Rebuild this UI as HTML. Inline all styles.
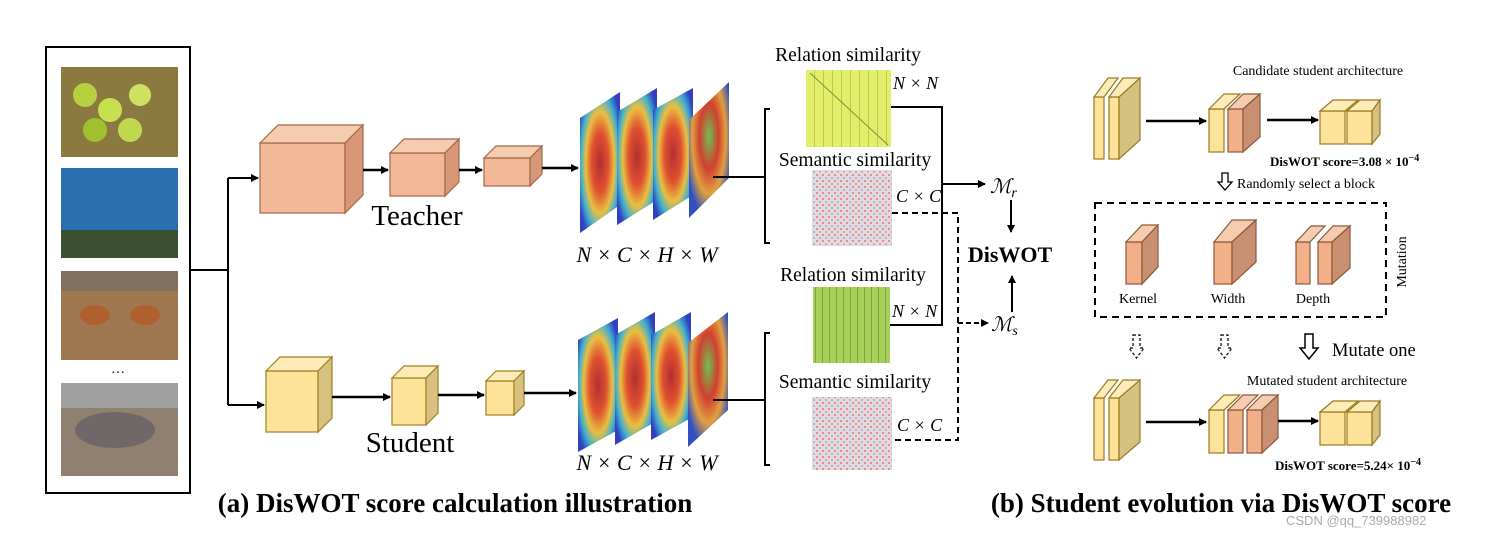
<!DOCTYPE html>
<html><head><meta charset="utf-8"><style>
html,body{margin:0;padding:0;background:#fff;}
svg{display:block;font-family:"Liberation Serif",serif;}
</style></head><body>
<svg width="1492" height="537" viewBox="0 0 1492 537" xmlns="http://www.w3.org/2000/svg">
<defs>
<marker id="ar" markerWidth="8" markerHeight="8" refX="7" refY="4" orient="auto" markerUnits="userSpaceOnUse"><path d="M0,0 L8,4 L0,8 z" fill="#000"/></marker>
<radialGradient id="hm" cx="0.5" cy="0.5" r="0.6"><stop offset="0" stop-color="#b03030"/><stop offset="0.35" stop-color="#e05030"/><stop offset="0.6" stop-color="#e8c040"/><stop offset="0.8" stop-color="#40b0d0"/><stop offset="1" stop-color="#3040c0"/></radialGradient>
<radialGradient id="hm2" cx="0.5" cy="0.4" r="0.6"><stop offset="0" stop-color="#70c050"/><stop offset="0.4" stop-color="#d04030"/><stop offset="0.7" stop-color="#e0a040"/><stop offset="1" stop-color="#3050c0"/></radialGradient>
<pattern id="sem" width="6" height="6" patternUnits="userSpaceOnUse"><rect width="6" height="6" fill="#e4d8dc"/><rect x="0" y="0" width="2" height="2" fill="#e89080"/><rect x="3" y="3" width="2" height="2" fill="#a8b8e0"/></pattern>
<pattern id="rel1" width="9" height="9" patternUnits="userSpaceOnUse"><rect width="9" height="9" fill="#e2ee6a"/><rect x="4" width="1" height="9" fill="#b8cc50"/></pattern>
<pattern id="rel2" width="7" height="7" patternUnits="userSpaceOnUse"><rect width="7" height="7" fill="#a8d058"/><rect x="3" width="1" height="7" fill="#78a840"/></pattern>
</defs>

<rect x="46" y="47" width="144" height="446" fill="#fff" stroke="#000" stroke-width="2"/>
<rect x="61" y="67" width="117" height="90" fill="#8a7a40"/>
<circle cx="85" cy="95" r="12" fill="#b8d040"/><circle cx="110" cy="110" r="12" fill="#c8e050"/><circle cx="140" cy="95" r="11" fill="#d0e060"/><circle cx="95" cy="130" r="12" fill="#a0c030"/><circle cx="130" cy="130" r="12" fill="#c0d850"/>
<rect x="61" y="168" width="117" height="90" fill="#2a70b0"/><rect x="61" y="230" width="117" height="28" fill="#3a5030"/>
<rect x="61" y="271" width="117" height="89" fill="#a07850"/><rect x="61" y="271" width="117" height="20" fill="#807060"/>
<ellipse cx="95" cy="315" rx="15" ry="10" fill="#b06030"/><ellipse cx="145" cy="315" rx="15" ry="10" fill="#b06030"/>
<text x="118" y="373" font-size="14" text-anchor="middle">…</text>
<rect x="61" y="383" width="117" height="93" fill="#908070"/><rect x="61" y="383" width="117" height="25" fill="#a0a0a0"/>
<ellipse cx="115" cy="430" rx="40" ry="18" fill="#706868"/>

<path d="M190,270 H228 V178 M228,270 V405" stroke="#000" stroke-width="2" fill="none"/>
<line x1="228" y1="178" x2="258" y2="178" stroke="#000" stroke-width="2" marker-end="url(#ar)"/>
<line x1="228" y1="405" x2="264" y2="405" stroke="#000" stroke-width="2" marker-end="url(#ar)"/>

<g stroke="#a06848" stroke-width="1.2">
<rect x="260" y="143" width="85" height="70" fill="#f2b898"/>
<polygon points="260,143 278,125 363,125 345,143" fill="#f6ccb0"/>
<polygon points="345,143 363,125 363,195 345,213" fill="#d89878"/>
<rect x="390" y="153" width="55" height="43" fill="#f2b898"/>
<polygon points="390,153 404,139 459,139 445,153" fill="#f6ccb0"/>
<polygon points="445,153 459,139 459,182 445,196" fill="#d89878"/>
<rect x="484" y="158" width="46" height="28" fill="#f2b898"/>
<polygon points="484,158 496,146 542,146 530,158" fill="#f6ccb0"/>
<polygon points="530,158 542,146 542,174 530,186" fill="#d89878"/>
</g>
<g stroke="#000" stroke-width="2.5">
<line x1="363" y1="170" x2="388" y2="170" marker-end="url(#ar)"/>
<line x1="459" y1="170" x2="482" y2="170" marker-end="url(#ar)"/>
<line x1="542" y1="168" x2="578" y2="168" marker-end="url(#ar)"/>
</g>
<text x="417" y="225" font-size="29" text-anchor="middle">Teacher</text>

<g stroke="#a08020" stroke-width="1.2">
<rect x="266" y="371" width="52" height="61" fill="#fde39a"/>
<polygon points="266,371 280,357 332,357 318,371" fill="#feecb8"/>
<polygon points="318,371 332,357 332,418 318,432" fill="#d8c080"/>
<rect x="392" y="378" width="34" height="47" fill="#fde39a"/>
<polygon points="392,378 404,366 438,366 426,378" fill="#feecb8"/>
<polygon points="426,378 438,366 438,413 426,425" fill="#d8c080"/>
<rect x="486" y="381" width="28" height="34" fill="#fde39a"/>
<polygon points="486,381 496,371 524,371 514,381" fill="#feecb8"/>
<polygon points="514,381 524,371 524,405 514,415" fill="#d8c080"/>
</g>
<g stroke="#000" stroke-width="2.5">
<line x1="332" y1="397" x2="390" y2="397" marker-end="url(#ar)"/>
<line x1="438" y1="395" x2="484" y2="395" marker-end="url(#ar)"/>
<line x1="524" y1="393" x2="576" y2="393" marker-end="url(#ar)"/>
</g>
<text x="410" y="452" font-size="29" text-anchor="middle">Student</text>

<polygon points="580,118 620,92 620,205 580,233" fill="url(#hm)"/>
<polygon points="617,112 657,88 657,200 617,225" fill="url(#hm)"/>
<polygon points="653,110 693,88 693,195 653,220" fill="url(#hm)"/>
<polygon points="689,120 729,82 729,178 689,218" fill="url(#hm2)"/>
<line x1="713" y1="177" x2="765" y2="177" stroke="#000" stroke-width="2"/>
<path d="M770,109 H765 V243 H770" stroke="#000" stroke-width="2" fill="none"/>
<text x="647" y="262" font-size="22" font-style="italic" text-anchor="middle">N × C × H × W</text>

<polygon points="578,340 618,318 618,430 578,452" fill="url(#hm)"/>
<polygon points="615,335 655,312 655,422 615,445" fill="url(#hm)"/>
<polygon points="651,335 691,312 691,418 651,440" fill="url(#hm)"/>
<polygon points="688,343 728,312 728,410 688,447" fill="url(#hm2)"/>
<line x1="713" y1="400" x2="765" y2="400" stroke="#000" stroke-width="2"/>
<path d="M770,333 H765 V465 H770" stroke="#000" stroke-width="2" fill="none"/>
<text x="647" y="470" font-size="22" font-style="italic" text-anchor="middle">N × C × H × W</text>

<rect x="806" y="70" width="85" height="77" fill="url(#rel1)"/>
<line x1="810" y1="73" x2="888" y2="145" stroke="#7a9040" stroke-width="1"/>
<rect x="812" y="170" width="80" height="76" fill="url(#sem)"/>
<rect x="813" y="287" width="77" height="76" fill="url(#rel2)"/>
<rect x="812" y="397" width="80" height="73" fill="url(#sem)"/>
<g font-size="19.5">
<text x="848" y="61" text-anchor="middle">Relation similarity</text>
<text x="855" y="166" text-anchor="middle">Semantic similarity</text>
<text x="853" y="281" text-anchor="middle">Relation similarity</text>
<text x="855" y="388" text-anchor="middle">Semantic similarity</text>
</g>
<g font-size="18" font-style="italic">
<text x="893" y="89">N × N</text>
<text x="896" y="202">C × C</text>
<text x="892" y="317">N × N</text>
<text x="897" y="431">C × C</text>
</g>
<path d="M891,107 H942 V325 H890" stroke="#000" stroke-width="2" fill="none"/>
<line x1="942" y1="184" x2="985" y2="184" stroke="#000" stroke-width="2" marker-end="url(#ar)"/>
<path d="M892,213 H958 V440 H892" stroke="#000" stroke-width="2" fill="none" stroke-dasharray="6,4"/>
<line x1="958" y1="323" x2="988" y2="323" stroke="#000" stroke-width="2" stroke-dasharray="5,3" marker-end="url(#ar)"/>
<text x="990" y="193" font-size="20" font-style="italic">ℳ<tspan font-size="14" dy="4">r</tspan></text>
<text x="991" y="331" font-size="20" font-style="italic">ℳ<tspan font-size="14" dy="4">s</tspan></text>
<line x1="1011" y1="200" x2="1011" y2="232" stroke="#000" stroke-width="2" marker-end="url(#ar)"/>
<line x1="1012" y1="312" x2="1012" y2="276" stroke="#000" stroke-width="2" marker-end="url(#ar)"/>
<text x="1010" y="262" font-size="22" font-weight="bold" text-anchor="middle">DisWOT</text>

<g stroke="#9a7a20" stroke-width="1.2">
<rect x="1094" y="97" width="10" height="62" fill="#fde39a"/><polygon points="1094,97 1108,78 1118,78 1104,97" fill="#feecb8"/>
<rect x="1109" y="97" width="10" height="62" fill="#fde39a"/><polygon points="1109,97 1123,78 1140,78 1125,97" fill="#feecb8"/><polygon points="1119,97 1140,78 1140,140 1119,159" fill="#d4c080"/>
<rect x="1209" y="109" width="15" height="43" fill="#fde39a"/><polygon points="1209,109 1224,94 1240,94 1224,109" fill="#feecb8"/>
<rect x="1228" y="109" width="15" height="43" fill="#f2b088" stroke="#8b5a3c"/><polygon points="1228,109 1243,94 1260,94 1243,109" fill="#f6ccb0" stroke="#8b5a3c"/><polygon points="1243,109 1260,94 1260,137 1243,152" fill="#c89070" stroke="#8b5a3c"/>
<rect x="1320" y="111" width="25" height="33" fill="#fde39a"/><polygon points="1320,111 1333,100 1358,100 1345,111" fill="#feecb8"/>
<rect x="1347" y="111" width="25" height="33" fill="#fde39a"/><polygon points="1347,111 1360,100 1380,100 1372,111" fill="#feecb8"/><polygon points="1372,111 1380,100 1380,134 1372,144" fill="#d4c080"/>
<rect x="1094" y="398" width="10" height="62" fill="#fde39a"/><polygon points="1094,398 1108,380 1118,380 1104,398" fill="#feecb8"/>
<rect x="1109" y="398" width="10" height="62" fill="#fde39a"/><polygon points="1109,398 1123,380 1140,380 1125,398" fill="#feecb8"/><polygon points="1119,398 1140,380 1140,442 1119,460" fill="#d4c080"/>
<rect x="1209" y="410" width="15" height="43" fill="#fde39a"/><polygon points="1209,410 1224,395 1240,395 1224,410" fill="#feecb8"/>
<rect x="1228" y="410" width="15" height="43" fill="#f2b088" stroke="#8b5a3c"/><polygon points="1228,410 1243,395 1258,395 1243,410" fill="#f6ccb0" stroke="#8b5a3c"/>
<rect x="1247" y="410" width="15" height="43" fill="#f2b088" stroke="#8b5a3c"/><polygon points="1247,410 1262,395 1278,395 1262,410" fill="#f6ccb0" stroke="#8b5a3c"/><polygon points="1262,410 1278,395 1278,438 1262,453" fill="#c89070" stroke="#8b5a3c"/>
<rect x="1320" y="412" width="25" height="33" fill="#fde39a"/><polygon points="1320,412 1333,401 1358,401 1345,412" fill="#feecb8"/>
<rect x="1347" y="412" width="25" height="33" fill="#fde39a"/><polygon points="1347,412 1360,401 1380,401 1372,412" fill="#feecb8"/><polygon points="1372,412 1380,401 1380,435 1372,445" fill="#d4c080"/>
</g>
<g stroke="#8b5a3c" stroke-width="1.2">
<rect x="1126" y="242" width="16" height="42" fill="#f2b088"/><polygon points="1126,242 1142,225 1158,225 1142,242" fill="#f6ccb0"/><polygon points="1142,242 1158,225 1158,267 1142,284" fill="#c89070"/>
<rect x="1214" y="242" width="18" height="42" fill="#f2b088"/><polygon points="1214,242 1232,220 1256,220 1232,242" fill="#f6ccb0"/><polygon points="1232,242 1256,220 1256,262 1232,284" fill="#c89070"/>
<rect x="1296" y="242" width="14" height="42" fill="#f2b088"/><polygon points="1296,242 1311,226 1325,226 1310,242" fill="#f6ccb0"/>
<rect x="1318" y="242" width="14" height="42" fill="#f2b088"/><polygon points="1318,242 1333,226 1350,226 1332,242" fill="#f6ccb0"/><polygon points="1332,242 1350,226 1350,268 1332,284" fill="#c89070"/>
</g>
<g stroke="#000" stroke-width="2.5">
<line x1="1146" y1="121" x2="1206" y2="121" marker-end="url(#ar)"/>
<line x1="1267" y1="120" x2="1318" y2="120" marker-end="url(#ar)"/>
<line x1="1146" y1="422" x2="1206" y2="422" marker-end="url(#ar)"/>
<line x1="1278" y1="421" x2="1318" y2="421" marker-end="url(#ar)"/>
</g>
<rect x="1095" y="203" width="291" height="114" fill="none" stroke="#000" stroke-width="2" stroke-dasharray="7,5"/>
<g font-size="14">
<text x="1318" y="75" text-anchor="middle">Candidate student architecture</text>
<text x="1237" y="188">Randomly select a block</text>
<text x="1138" y="303" text-anchor="middle">Kernel</text>
<text x="1228" y="303" text-anchor="middle">Width</text>
<text x="1313" y="303" text-anchor="middle">Depth</text>
<text x="1327" y="385" text-anchor="middle">Mutated student architecture</text>
<text transform="translate(1406,262) rotate(-90)" text-anchor="middle">Mutation</text>
</g>
<text x="1332" y="356" font-size="18.5">Mutate one</text>
<text x="1270" y="166" font-size="13" font-weight="bold">DisWOT score=3.08 × 10<tspan dy="-5" font-size="10">−4</tspan></text>
<text x="1275" y="470" font-size="13" font-weight="bold">DisWOT score=5.24× 10<tspan dy="-5" font-size="10">−4</tspan></text>
<path d="M1222,173 h6 v9 h4 l-7,8 l-7,-8 h4 z" fill="#fff" stroke="#000" stroke-width="1.3"/>
<path d="M1305,334 h8 v14 h5 l-9,11 l-9,-11 h5 z" fill="#fff" stroke="#000" stroke-width="1.5"/>
<path d="M1133,335 h7 v13 h4 l-7.5,10 l-7.5,-10 h4 z" fill="#fff" stroke="#000" stroke-width="1.2" stroke-dasharray="3,2"/>
<path d="M1221,335 h7 v13 h4 l-7.5,10 l-7.5,-10 h4 z" fill="#fff" stroke="#000" stroke-width="1.2" stroke-dasharray="3,2"/>

<text x="455" y="512" font-size="27" font-weight="bold" text-anchor="middle">(a) DisWOT score calculation illustration</text>
<text x="1221" y="512" font-size="27" font-weight="bold" text-anchor="middle">(b) Student evolution via DisWOT score</text>
<text x="1286" y="525" font-size="13" fill="#aaa" font-family="Liberation Sans, sans-serif">CSDN @qq_739988982</text>
</svg>
</body></html>
